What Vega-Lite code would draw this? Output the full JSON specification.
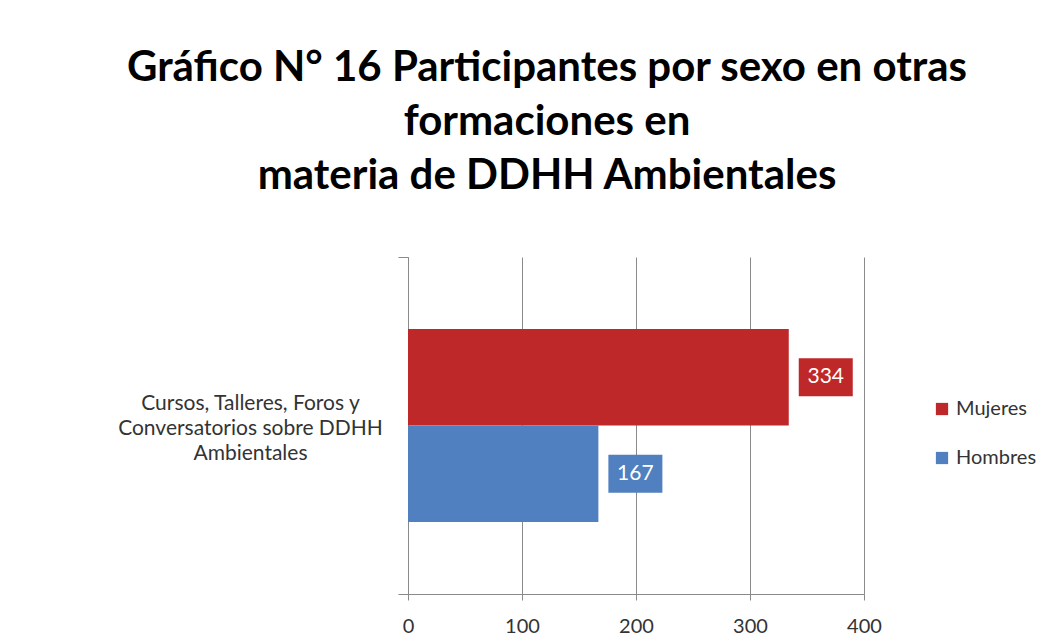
{
  "$schema": "https://vega.github.io/schema/vega-lite/v6.json",
  "autosize": {"type": "none"},
  "width": 456,
  "height": 337,
  "padding": {"left": 408, "top": 257, "right": 193, "bottom": 50},
  "background": "white",
  "title": {
    "text": ["Gráfico N° 16 Participantes por sexo en otras", "formaciones en", "materia de DDHH Ambientales"],
    "anchor": "middle",
    "frame": "group",
    "dx": -89,
    "offset": 48,
    "font": "Lato",
    "fontSize": 42,
    "fontWeight": "bold",
    "lineHeight": 54,
    "color": "#000000"
  },
  "data": {
    "values": [
      {"Formacion": "Cursos, Talleres, Foros y Conversatorios sobre DDHH Ambientales", "Sexo": "Mujeres", "Participantes": 334},
      {"Formacion": "Cursos, Talleres, Foros y Conversatorios sobre DDHH Ambientales", "Sexo": "Hombres", "Participantes": 167}
    ]
  },
  "encoding": {
    "y": {
      "field": "Formacion",
      "type": "nominal",
      "title": null,
      "scale": {"paddingInner": 0, "paddingOuter": 0},
      "axis": {
        "labelExpr": "split(replace(replace(datum.label, 'y Conv', 'y|Conv'), 'DDHH Amb', 'DDHH|Amb'), '|')",
        "labelAlign": "center",
        "labelBaseline": "middle",
        "labelPadding": 148,
        "labelOffset": -22,
        "ticks": true,
        "tickBand": "extent",
        "tickSize": 10,
        "tickColor": "#8a8a8a",
        "labelFont": "Lato",
        "labelFontSize": 21,
        "labelLineHeight": 25,
        "labelColor": "#333333",
        "labelLimit": 400,
        "domainColor": "#8a8a8a"
      }
    },
    "yOffset": {"field": "Sexo", "type": "nominal", "sort": ["Mujeres", "Hombres"], "scale": {"paddingInner": 0, "paddingOuter": 0.746}}
  },
  "layer": [
    {
      "mark": {"type": "bar"},
      "encoding": {
        "x": {
          "field": "Participantes",
          "type": "quantitative",
          "title": null,
          "scale": {"domain": [0, 400], "nice": false},
          "axis": {
            "values": [0, 100, 200, 300, 400],
            "grid": true,
            "gridColor": "#8a8a8a",
            "domainColor": "#8a8a8a",
            "tickColor": "#8a8a8a",
            "tickSize": 6,
            "labelFont": "Lato",
            "labelFontSize": 20,
            "labelColor": "#333333",
            "labelPadding": 16,
            "labelFlush": false
          }
        },
        "color": {
          "field": "Sexo",
          "type": "nominal",
          "scale": {"domain": ["Mujeres", "Hombres"], "range": ["#BF2828", "#5080C0"]},
          "legend": {
            "title": null,
            "orient": "none",
            "legendX": 524,
            "legendY": 142,
            "symbolType": "square",
            "symbolSize": 150,
            "symbolStrokeWidth": 0,
            "labelFont": "Lato",
            "labelFontSize": 20,
            "labelColor": "#333333",
            "rowPadding": 29
          }
        }
      }
    },
    {
      "mark": {"type": "bar", "xOffset": 10, "x2Offset": 64, "size": 38},
      "encoding": {
        "x": {"field": "Participantes", "type": "quantitative"},
        "x2": {"field": "Participantes"},
        "color": {"field": "Sexo", "type": "nominal", "legend": null}
      }
    },
    {
      "mark": {"type": "text", "xOffset": 37, "align": "center", "baseline": "middle", "font": "Lato", "fontSize": 21, "color": "white"},
      "encoding": {
        "x": {"field": "Participantes", "type": "quantitative"},
        "text": {"field": "Participantes", "type": "quantitative"}
      }
    }
  ],
  "config": {"view": {"stroke": null}}
}
